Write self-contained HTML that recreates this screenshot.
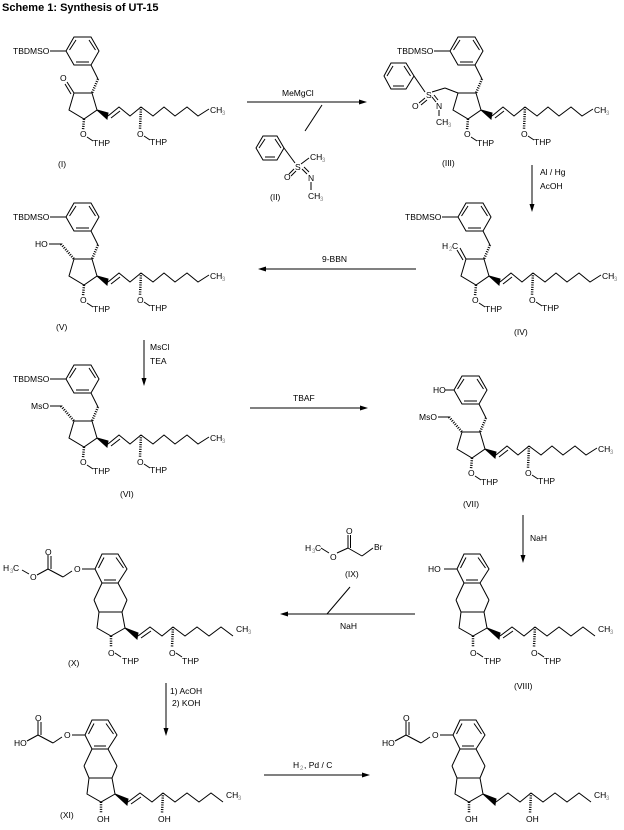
<!DOCTYPE html>
<html><head><meta charset="utf-8"><style>
html,body{margin:0;padding:0;background:#fff;}
svg{display:block;}
text{font-family:"Liberation Sans",Arial,sans-serif;font-size:8.5px;fill:#000;}
.s{font-size:6px;fill:#888;}
</style></head><body>
<svg width="624" height="830" viewBox="0 0 624 830" xmlns="http://www.w3.org/2000/svg">
<defs>
<g id="P" stroke="#000" stroke-width="1" fill="none">
<polygon points="66,220 74,206 91,206 99,220 91,234 74,234"/>
<line x1="69.5" y1="219" x2="76" y2="209"/><line x1="89" y1="209" x2="95.5" y2="219"/><line x1="89" y1="231" x2="76" y2="231"/>
<line x1="91" y1="234" x2="98" y2="248"/>
<line x1="98" y1="248" x2="92" y2="262" stroke-width="2.5" stroke-dasharray="1 1.3"/>
<polygon points="74,262 92,262 97,279 84,288 69,279"/>
<line x1="84" y1="288" x2="83" y2="299" stroke-width="2.5" stroke-dasharray="1 1.3"/>
<line x1="87" y1="306" x2="93" y2="310"/>
<polygon points="97,279 108,282 107,288" fill="#000"/>
<polyline points="108,285 119,276 130,285 141,276 153,285 164,276 175,285 187,276 198,285 209,278"/>
<line x1="111" y1="287" x2="120" y2="280"/>
<line x1="141" y1="276" x2="140" y2="298" stroke-width="2.5" stroke-dasharray="1 1.3"/>
<line x1="144" y1="305" x2="150" y2="309"/>
</g>
<g id="T" stroke="#000" stroke-width="1" fill="none">
<polygon points="95,569 102,554 118,554 127,569 118,583 102,583"/>
<line x1="98.5" y1="568" x2="104" y2="557.5"/><line x1="116" y1="557.5" x2="123.5" y2="568"/><line x1="104" y1="580" x2="116" y2="580"/>
<line x1="102" y1="583" x2="94" y2="600"/><line x1="118" y1="583" x2="127" y2="600"/>
<line x1="94" y1="600" x2="99" y2="612"/><line x1="127" y1="600" x2="122" y2="612"/>
<polygon points="99,612 122,612 125,628 111,636 97,628"/>
<polygon points="125,628 138,633 137,639" fill="#000"/>
<line x1="82" y1="569" x2="95" y2="569"/>
</g>
<g id="Tc" stroke="#000" stroke-width="1" fill="none">
<polyline points="138,636 150,627 162,636 173,627 185,636 197,627 209,636 221,627 233,636"/>
<line x1="173" y1="627" x2="172" y2="647" stroke-width="2.5" stroke-dasharray="1 1.3"/>
<line x1="111" y1="636" x2="111" y2="647" stroke-width="2.5" stroke-dasharray="1 1.3"/>
</g>
<g id="E" stroke="#000" stroke-width="1" fill="none">
<line x1="72" y1="571" x2="63" y2="577"/><line x1="63" y1="577" x2="48" y2="569"/>
<line x1="48" y1="569" x2="48" y2="555"/><line x1="51" y1="569" x2="51" y2="556"/>
<line x1="48" y1="569" x2="37" y2="575"/>
</g>
</defs>
<text x="2" y="11" style="font-weight:bold;font-size:11px">Scheme 1: Synthesis of UT-15</text>

<!-- I -->
<g transform="translate(0,-169)">
<use href="#P"/>
<g stroke="#000" fill="none"><line x1="50" y1="220" x2="66" y2="220"/><line x1="74" y1="262" x2="67" y2="251"/><line x1="71" y1="263" x2="65" y2="253"/></g>
<text x="13" y="223">TBDMSO</text><text x="60" y="250">O</text>
<text x="80" y="306">O</text><text x="93" y="315">THP</text><text x="137" y="306">O</text><text x="150" y="314">THP</text>
<text x="210" y="282">CH</text><text class="s" x="222" y="284">3</text>
<text x="58" y="336">(I)</text>
</g>

<!-- arrow 1 -->
<line x1="247" y1="102" x2="362" y2="102" stroke="#000"/><polygon points="367,102 359,99.5 359,104.5"/>
<text x="282" y="96">MeMgCl</text>
<line x1="322" y1="105" x2="305" y2="131" stroke="#000"/>
<!-- II -->
<g stroke="#000" fill="none">
<polygon points="256,148 263,136 277,136 284,148 277,160 263,160"/>
<line x1="259" y1="148" x2="265" y2="139"/><line x1="275" y1="139" x2="281" y2="148"/><line x1="275" y1="157" x2="265" y2="157"/>
<line x1="284" y1="148" x2="295" y2="163"/><line x1="301" y1="164" x2="309" y2="158"/>
<line x1="294" y1="169" x2="289" y2="174"/><line x1="296" y1="171" x2="291" y2="176"/>
<line x1="302" y1="169" x2="307" y2="174"/><line x1="304" y1="167" x2="309" y2="172"/>
<line x1="311" y1="182" x2="311" y2="190"/>
</g>
<text x="295" y="170">S</text><text x="310" y="160">CH</text><text class="s" x="322" y="162">3</text>
<text x="284" y="180">O</text><text x="308" y="181">N</text>
<text x="308" y="199">CH</text><text class="s" x="320" y="201">3</text>
<text x="270" y="200">(II)</text>

<!-- III -->
<g transform="translate(384,-169)">
<use href="#P"/>
<g stroke="#000" fill="none"><line x1="50" y1="220" x2="66" y2="220"/>
<polygon points="0,245 7,232 22,232 30,245 22,258 7,258"/>
<line x1="3" y1="245" x2="9" y2="235"/><line x1="20" y1="235" x2="26.5" y2="245"/><line x1="20" y1="255" x2="9" y2="255"/>
<line x1="30" y1="245" x2="41" y2="261"/><line x1="48" y1="261" x2="61" y2="257"/><line x1="61" y1="257" x2="74" y2="262"/>
<line x1="41" y1="267" x2="35" y2="272"/><line x1="43" y1="269" x2="37" y2="274"/>
<line x1="48" y1="266" x2="52" y2="271"/><line x1="50" y1="264" x2="54" y2="269"/>
<line x1="55" y1="279" x2="55" y2="285"/></g>
<text x="13" y="223">TBDMSO</text>
<text x="42" y="267">S</text><text x="28" y="278">O</text><text x="52" y="278">N</text>
<text x="52" y="294">CH</text><text class="s" x="64" y="296">3</text>
<text x="80" y="306">O</text><text x="93" y="315">THP</text><text x="137" y="306">O</text><text x="150" y="314">THP</text>
<text x="210" y="282">CH</text><text class="s" x="222" y="284">3</text>
<text x="58" y="335">(III)</text>
</g>

<!-- Al/Hg arrow -->
<line x1="532" y1="165" x2="532" y2="207" stroke="#000"/><polygon points="532,212 529.5,204 534.5,204"/>
<text x="540" y="175">Al / Hg</text><text x="540" y="189">AcOH</text>

<!-- IV -->
<g transform="translate(392,-3)">
<use href="#P"/>
<g stroke="#000" fill="none"><line x1="50" y1="220" x2="66" y2="220"/><line x1="74" y1="262" x2="68" y2="251"/><line x1="71" y1="263" x2="65" y2="253"/></g>
<text x="13" y="223">TBDMSO</text><text x="50" y="252">H</text><text class="s" x="57" y="254">2</text><text x="60" y="252">C</text>
<text x="80" y="306">O</text><text x="93" y="315">THP</text><text x="137" y="306">O</text><text x="150" y="314">THP</text>
<text x="210" y="282">CH</text><text class="s" x="222" y="284">3</text>
<text x="122" y="338">(IV)</text>
</g>

<!-- 9-BBN -->
<line x1="263" y1="269" x2="416" y2="269" stroke="#000"/><polygon points="258,269 266,266.5 266,271.5"/>
<text x="322" y="262">9-BBN</text>

<!-- V -->
<g transform="translate(0,-3)">
<use href="#P"/>
<g stroke="#000" fill="none"><line x1="50" y1="220" x2="66" y2="220"/><line x1="49" y1="247" x2="61" y2="247"/>
<line x1="61" y1="247" x2="74" y2="262" stroke-width="2.5" stroke-dasharray="1 1.3"/></g>
<text x="13" y="223">TBDMSO</text><text x="35" y="250">HO</text>
<text x="80" y="306">O</text><text x="93" y="315">THP</text><text x="137" y="306">O</text><text x="150" y="314">THP</text>
<text x="210" y="282">CH</text><text class="s" x="222" y="284">3</text>
<text x="56" y="333">(V)</text>
</g>

<!-- MsCl arrow -->
<line x1="144" y1="340" x2="144" y2="381" stroke="#000"/><polygon points="144,386 141.5,378 146.5,378"/>
<text x="150" y="350">MsCl</text><text x="150" y="364">TEA</text>

<!-- VI -->
<g transform="translate(0,159)">
<use href="#P"/>
<g stroke="#000" fill="none"><line x1="50" y1="220" x2="66" y2="220"/><line x1="50" y1="247" x2="61" y2="247"/>
<line x1="61" y1="247" x2="74" y2="262" stroke-width="2.5" stroke-dasharray="1 1.3"/></g>
<text x="13" y="223">TBDMSO</text><text x="31" y="250">MsO</text>
<text x="80" y="306">O</text><text x="93" y="315">THP</text><text x="137" y="306">O</text><text x="150" y="314">THP</text>
<text x="210" y="282">CH</text><text class="s" x="222" y="284">3</text>
<text x="120" y="338">(VI)</text>
</g>

<!-- TBAF -->
<line x1="250" y1="408" x2="363" y2="408" stroke="#000"/><polygon points="368,408 360,405.5 360,410.5"/>
<text x="293" y="401">TBAF</text>

<!-- VII -->
<g transform="translate(388,170)">
<use href="#P"/>
<g stroke="#000" fill="none"><line x1="57" y1="220" x2="66" y2="220"/><line x1="50" y1="247" x2="61" y2="247"/>
<line x1="61" y1="247" x2="74" y2="262" stroke-width="2.5" stroke-dasharray="1 1.3"/></g>
<text x="45" y="223">HO</text><text x="31" y="250">MsO</text>
<text x="80" y="306">O</text><text x="93" y="315">THP</text><text x="137" y="306">O</text><text x="150" y="314">THP</text>
<text x="210" y="282">CH</text><text class="s" x="222" y="284">3</text>
<text x="75" y="337">(VII)</text>
</g>

<!-- NaH down -->
<line x1="523" y1="515" x2="523" y2="558" stroke="#000"/><polygon points="523,563 520.5,555 525.5,555"/>
<text x="530" y="541">NaH</text>

<!-- IX -->
<g stroke="#000" fill="none">
<line x1="321" y1="548" x2="329" y2="553"/><line x1="337" y1="553" x2="348" y2="548"/>
<line x1="348" y1="548" x2="348" y2="535"/><line x1="350.5" y1="548" x2="350.5" y2="535"/>
<line x1="348" y1="548" x2="362" y2="556"/><line x1="362" y1="556" x2="373" y2="548"/>
</g>
<text x="305" y="551">H</text><text class="s" x="312" y="553">3</text><text x="315" y="551">C</text>
<text x="330" y="560">O</text><text x="346" y="534">O</text><text x="374" y="550">Br</text>
<text x="345" y="577">(IX)</text>
<line x1="285" y1="614" x2="415" y2="614" stroke="#000"/><polygon points="280,614 288,611.5 288,616.5"/>
<line x1="350" y1="587" x2="327" y2="614" stroke="#000"/>
<text x="340" y="629">NaH</text>

<!-- X -->
<use href="#T"/><use href="#Tc"/><use href="#E"/>
<line x1="141" y1="638" x2="151" y2="631" stroke="#000"/>
<g stroke="#000"><line x1="115" y1="653" x2="121" y2="657"/><line x1="176" y1="653" x2="182" y2="657"/><line x1="29" y1="574" x2="22" y2="570"/></g>
<text x="74" y="572">O</text><text x="45" y="555">O</text><text x="30" y="580">O</text>
<text x="3" y="571">H</text><text class="s" x="10" y="573">3</text><text x="13" y="571">C</text>
<text x="108" y="656">O</text><text x="122" y="664">THP</text><text x="169" y="656">O</text><text x="182" y="664">THP</text>
<text x="236" y="632">CH</text><text class="s" x="248" y="634">3</text>
<text x="68" y="666">(X)</text>

<!-- VIII -->
<g transform="translate(362,0)">
<use href="#T"/><use href="#Tc"/>
<line x1="141" y1="638" x2="151" y2="631" stroke="#000"/>
<g stroke="#000"><line x1="115" y1="653" x2="121" y2="657"/><line x1="176" y1="653" x2="182" y2="657"/></g>
<text x="66" y="572">HO</text>
<text x="108" y="656">O</text><text x="122" y="664">THP</text><text x="169" y="656">O</text><text x="182" y="664">THP</text>
<text x="236" y="632">CH</text><text class="s" x="248" y="634">3</text>
<text x="152" y="689">(VIII)</text>
</g>

<!-- AcOH/KOH arrow -->
<line x1="166" y1="683" x2="166" y2="731" stroke="#000"/><polygon points="166,736 163.5,728 168.5,728"/>
<text x="170" y="694">1) AcOH</text><text x="172" y="706">2) KOH</text>

<!-- XI -->
<g transform="translate(-10,166)">
<use href="#T"/><use href="#Tc"/><use href="#E"/>
<line x1="141" y1="638" x2="151" y2="631" stroke="#000"/>
<text x="74" y="572">O</text><text x="45" y="555">O</text><text x="24" y="580">HO</text>
<text x="107" y="656">OH</text><text x="168" y="656">OH</text>
<text x="236" y="632">CH</text><text class="s" x="248" y="634">3</text>
<text x="70" y="652">(XI)</text>
</g>

<!-- H2 arrow -->
<line x1="264" y1="775" x2="365" y2="775" stroke="#000"/><polygon points="370,775 362,772.5 362,777.5"/>
<text x="293" y="768">H</text><text class="s" x="300" y="770">2</text><text x="304" y="768">, Pd / C</text>

<!-- Product -->
<g transform="translate(358,166)">
<use href="#T"/><use href="#Tc"/><use href="#E"/>
<text x="74" y="572">O</text><text x="45" y="555">O</text><text x="24" y="580">HO</text>
<text x="107" y="656">OH</text><text x="168" y="656">OH</text>
<text x="236" y="632">CH</text><text class="s" x="248" y="634">3</text>
</g>
</svg>
</body></html>
